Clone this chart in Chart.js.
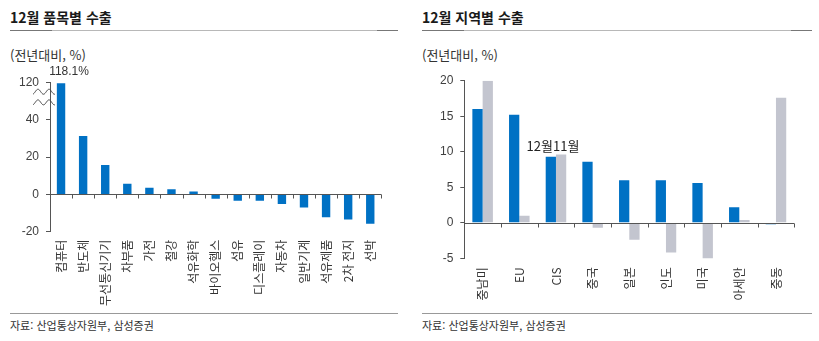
<!DOCTYPE html>
<html lang="ko">
<head>
<meta charset="utf-8">
<script src="https://cdn.jsdelivr.net/npm/chart.js@4.4.1/dist/chart.umd.min.js"></script>
<style>
  html, body { margin: 0; padding: 0; background: #fff; }
  #page { position: relative; width: 819px; height: 341px; overflow: hidden; font-family: 'Noto Sans CJK KR', 'Liberation Sans', sans-serif; color: #222; }
  .title { position: absolute; top: 7px; font-size: 14px; font-weight: bold; line-height: 20px; color: #1a1a1a; white-space: nowrap; }
  .sub { position: absolute; top: 46px; font-size: 13px; line-height: 18px; color: #333; white-space: nowrap; }
  .src { position: absolute; top: 316px; font-size: 11px; line-height: 18px; color: #333; white-space: nowrap; }
  .hline { position: absolute; height: 1px; background: #b8b8b8; }
  .dark { position: absolute; height: 1px; background: #777; }
  canvas { position: absolute; }
</style>
</head>
<body>
<div id="page">
  <div class="title" style="left:10px">12월 품목별 수출</div>
  <div class="hline" style="left:10px; top:30px; width:388px"></div>
  <div class="dark" style="left:10px; top:30px; width:42px"></div>
  <div class="dark" style="left:377px; top:30px; width:21px"></div>
  <div class="sub" style="left:10px">(전년대비, %)</div>
  <div class="hline" style="left:10px; top:313px; width:388px; background:#999"></div>
  <div class="src" style="left:10px">자료: 산업통상자원부, 삼성증권</div>

  <div class="title" style="left:422px">12월 지역별 수출</div>
  <div class="hline" style="left:422px; top:30px; width:390px"></div>
  <div class="dark" style="left:422px; top:30px; width:42px"></div>
  <div class="dark" style="left:791px; top:30px; width:21px"></div>
  <div class="sub" style="left:422px">(전년대비, %)</div>
  <div class="hline" style="left:422px; top:313px; width:390px; background:#999"></div>
  <div class="src" style="left:422px">자료: 산업통상자원부, 삼성증권</div>

  <canvas id="c1" width="410" height="252" style="left:0px; top:60px; width:410px; height:252px"></canvas>
  <canvas id="c2" width="409" height="252" style="left:410px; top:60px; width:409px; height:252px"></canvas>
</div>
<script>
// ---------- data ----------
const itemCategories = ['컴퓨터','반도체','무선통신기기','차부품','가전','철강','석유화학','바이오헬스','섬유','디스플레이','자동차','일반기계','석유제품','2차 전지','선박'];
const itemValues = [118.1, 31.3, 15.7, 5.7, 3.5, 2.8, 1.6, -2.4, -3.4, -3.4, -5.2, -7.0, -12.2, -13.4, -15.8];
const itemTicks = [-20, 0, 20, 40, 120];

const regionCategories = ['중남미','EU','CIS','중국','일본','인도','미국','아세안','중동'];
const decValues = [16.0, 15.2, 9.3, 8.6, 6.0, 6.0, 5.6, 2.2, -0.2];
const novValues = [20.0, 1.0, 9.6, -0.7, -2.4, -4.2, -5.3, 0.4, 17.6];
const seriesNames = ['12월', '11월'];

// broken axis: 40..120 compressed into 40..60
const BREAK_LOW = 40, BREAK_HIGH = 120, BREAK_TOP = 60;
function toBroken(v) { return v > BREAK_LOW ? BREAK_LOW + (v - BREAK_LOW) * (BREAK_TOP - BREAK_LOW) / (BREAK_HIGH - BREAK_LOW) : v; }
function fromBroken(v) { return v > BREAK_LOW ? BREAK_LOW + (v - BREAK_LOW) * (BREAK_HIGH - BREAK_LOW) / (BREAK_TOP - BREAK_LOW) : v; }

const BLUE = '#0071C4';
const GREY = '#C3C5CF';
const AXIS = '#555555';
Chart.defaults.font.family = "'Noto Sans CJK KR', 'Liberation Sans', sans-serif";
Chart.defaults.color = '#333';

const zeroAxis = {
  id: 'zeroAxis',
  afterDatasetsDraw(chart) {
    const { ctx, chartArea, scales: { x, y } } = chart;
    const y0 = Math.round(y.getPixelForValue(0)) + 0.5;
    const n = x.ticks.length;
    const w = (chartArea.right - chartArea.left) / n;
    ctx.save();
    ctx.strokeStyle = AXIS; ctx.lineWidth = 1;
    ctx.beginPath();
    ctx.moveTo(chartArea.left, y0); ctx.lineTo(chartArea.right, y0);
    for (let i = 1; i <= n; i++) {
      const xx = Math.round(chartArea.left + i * w) + 0.5;
      ctx.moveTo(xx, y0); ctx.lineTo(xx, y0 + 4);
    }
    ctx.stroke();
    ctx.restore();
  }
};

const breakMark = {
  id: 'breakMark',
  afterDraw(chart) {
    const { ctx, chartArea, scales: { y } } = chart;
    const ax = chartArea.left;
    const ys = [y.getPixelForValue(55), y.getPixelForValue(49.3)];
    ctx.save();
    ctx.strokeStyle = '#444'; ctx.lineWidth = 1;
    ys.forEach(yy => {
      ctx.beginPath();
      for (let t = 0; t <= 22; t += 0.5) {
        const px = ax - 17 + t;
        const py = yy + 2.5 * Math.cos((t / 11) * 2 * Math.PI + 0.3);
        if (t === 0) ctx.moveTo(px, py); else ctx.lineTo(px, py);
      }
      ctx.stroke();
    });
    // label above first bar
    const bar = chart.getDatasetMeta(0).data[0];
    ctx.fillStyle = '#333';
    ctx.font = "12px 'Liberation Sans', sans-serif";
    ctx.textAlign = 'center'; ctx.textBaseline = 'middle';
    ctx.fillText(itemValues[0].toFixed(1) + '%', bar.x + 8, bar.y - 12);
    ctx.restore();
  }
};

new Chart(document.getElementById('c1'), {
  type: 'bar',
  data: {
    labels: itemCategories,
    datasets: [{ data: itemValues.map(toBroken), backgroundColor: BLUE, barPercentage: 0.38, categoryPercentage: 1.0 }]
  },
  options: {
    responsive: false, animation: false, devicePixelRatio: 1,
    layout: { padding: { top: 22.4, right: 28.7, bottom: 0, left: 0 } },
    plugins: { legend: { display: false }, tooltip: { enabled: false } },
    scales: {
      x: {
        grid: { display: false, drawTicks: false },
        border: { display: false },
        ticks: { autoSkip: false, minRotation: 90, maxRotation: 90, padding: 8, color: '#333', font: { size: 12 } },
        afterFit(s) { s.height = 80.3; }
      },
      y: {
        min: -20, max: BREAK_TOP,
        afterBuildTicks(s) { s.ticks = itemTicks.map(v => ({ value: toBroken(v) })); },
        grid: { drawOnChartArea: false, drawTicks: true, tickLength: 4, color: AXIS },
        border: { display: true, color: AXIS },
        ticks: { padding: 7, color: '#404040', font: { family: "'Liberation Sans', sans-serif", size: 12 },
                 callback: v => String(Math.round(fromBroken(v))) },
        afterFit(s) { s.width = 50; }
      }
    }
  },
  plugins: [zeroAxis, breakMark]
});

const monthLabel = {
  id: 'monthLabel',
  afterDraw(chart) {
    const { ctx } = chart;
    const b = chart.getDatasetMeta(0).data[2];
    const g = chart.getDatasetMeta(1).data[2];
    const split = (b.x + g.x) / 2 - 3;
    const yy = Math.min(b.y, g.y) - 4;
    ctx.save();
    ctx.fillStyle = '#222';
    ctx.font = "13px 'Noto Sans CJK KR', sans-serif";
    ctx.textBaseline = 'alphabetic';
    ctx.textAlign = 'right'; ctx.fillText(seriesNames[0], split, yy);
    ctx.textAlign = 'left'; ctx.fillText(seriesNames[1], split, yy);
    ctx.restore();
  }
};

new Chart(document.getElementById('c2'), {
  type: 'bar',
  data: {
    labels: regionCategories,
    datasets: [
      { label: seriesNames[0], data: decValues, backgroundColor: BLUE, barPercentage: 1.0, categoryPercentage: 0.56 },
      { label: seriesNames[1], data: novValues, backgroundColor: GREY, barPercentage: 1.0, categoryPercentage: 0.56 }
    ]
  },
  options: {
    responsive: false, animation: false, devicePixelRatio: 1,
    layout: { padding: { top: 20.7, right: 24.7, bottom: 0, left: 0 } },
    plugins: { legend: { display: false }, tooltip: { enabled: false } },
    scales: {
      x: {
        grid: { display: false, drawTicks: false },
        border: { display: false },
        ticks: { autoSkip: false, minRotation: 90, maxRotation: 90, padding: 9, color: '#333', font: { size: 12 } },
        afterFit(s) { s.height = 53.7; }
      },
      y: {
        min: -5, max: 20,
        ticks: { stepSize: 5, padding: 7, color: '#404040', font: { family: "'Liberation Sans', sans-serif", size: 12 } },
        grid: { drawOnChartArea: false, drawTicks: true, tickLength: 4, color: AXIS },
        border: { display: true, color: AXIS },
        afterFit(s) { s.width = 54.3; }
      }
    }
  },
  plugins: [zeroAxis, monthLabel]
});
</script>
</body>
</html>
